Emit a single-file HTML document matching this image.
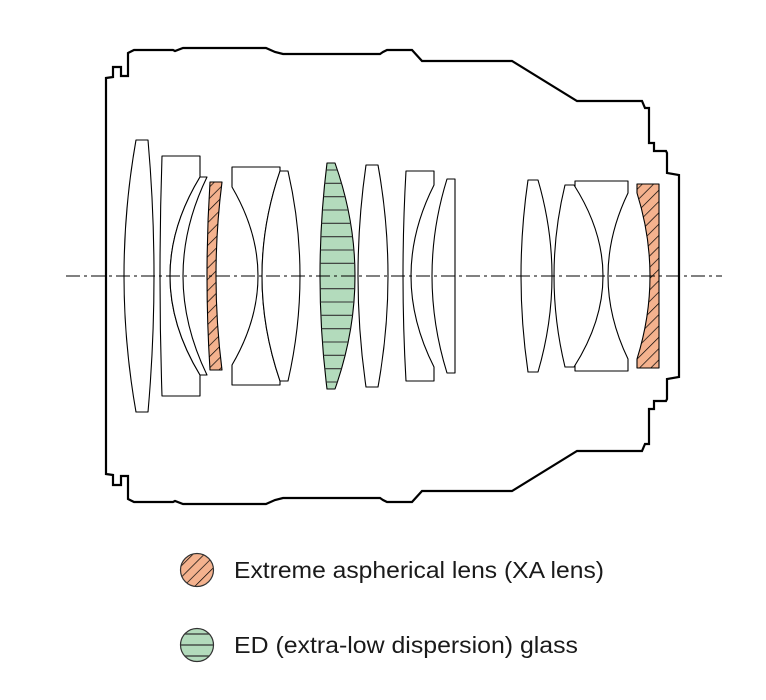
<!DOCTYPE html>
<html><head><meta charset="utf-8"><style>
html,body{margin:0;padding:0;background:#fff;}
svg{display:block;}
text{font-family:"Liberation Sans",sans-serif;font-size:23px;fill:#1a1a1a;}
</style></head><body>
<svg width="766" height="700" viewBox="0 0 766 700" xmlns="http://www.w3.org/2000/svg">
<defs>
<pattern id="hatch" patternUnits="userSpaceOnUse" width="8" height="8" patternTransform="rotate(45)">
<rect width="8" height="8" fill="#f4b28e"/>
<line x1="0" y1="0" x2="0" y2="8" stroke="#000" stroke-width="1.4"/>
</pattern>
<clipPath id="edclip"><path d="M327,163 L335,163 Q375,276 335,389 L327,389 Q313,276 327,163 Z"/></clipPath>
<clipPath id="lc2"><circle cx="197" cy="645" r="16"/></clipPath>
</defs>

<g fill="none" stroke="#000" stroke-width="2.2" stroke-linejoin="miter">
<path id="h" d="M106,276 L106,78 L113,77 L113,67 L121,67 L121,76 L128,76 L128,53 L134,50 L173,50 L175,51 L183,48 L266,48 L275,52 L283,54 L380,54 L383,52 L387,50 L412,50 L422,61 L512,61 L577,101 L642,101 L645,108 L649,108 L649,143 L654,143 L654,151 L666,151 L667,153 L667,173 L679,175 L679,276"/>
<use href="#h" transform="translate(0,552) scale(1,-1)"/>
</g>

<g fill="none" stroke="#000" stroke-width="1.1" stroke-linejoin="round">
<path d="M136,140 L148,140 Q160,276 148,412 L136,412 Q112,276 136,140 Z" fill="#fff"/>
<path d="M162,156 L200,156 L200,177 Q140,276 200,375 L200,396 L162,396 Q158,276 162,156 Z" fill="#fff"/>
<path d="M200,177 L207,177 Q159,276 207,375 L200,375 Q140,276 200,177 Z" fill="#fff"/>
<path d="M210,182 L222,182 Q210,276 222,370 L210,370 Q204,276 210,182 Z" fill="url(#hatch)"/>
<path d="M232,167 L280,167 L280,171 Q244,276 280,381 L280,385 L232,385 L232,365 Q284,276 232,187 Z" fill="#fff"/>
<path d="M280,171 L288,171 Q312,276 288,381 L280,381 Q244,276 280,171 Z" fill="#fff"/>
<path d="M327,163 L335,163 Q375,276 335,389 L327,389 Q313,276 327,163 Z" fill="#b3dbbc"/>
<g clip-path="url(#edclip)" stroke="#333">
<line x1="300" y1="170" x2="380" y2="170"/><line x1="300" y1="183.3" x2="380" y2="183.3"/>
<line x1="300" y1="196.7" x2="380" y2="196.7"/><line x1="300" y1="210" x2="380" y2="210"/>
<line x1="300" y1="223.3" x2="380" y2="223.3"/><line x1="300" y1="236.7" x2="380" y2="236.7"/>
<line x1="300" y1="250" x2="380" y2="250"/><line x1="300" y1="263.3" x2="380" y2="263.3"/>
<line x1="300" y1="288.7" x2="380" y2="288.7"/><line x1="300" y1="302" x2="380" y2="302"/>
<line x1="300" y1="315.3" x2="380" y2="315.3"/><line x1="300" y1="328.7" x2="380" y2="328.7"/>
<line x1="300" y1="342" x2="380" y2="342"/><line x1="300" y1="355.3" x2="380" y2="355.3"/>
<line x1="300" y1="368.7" x2="380" y2="368.7"/><line x1="300" y1="382" x2="380" y2="382"/>
</g>
<path d="M366,165 L378,165 Q398,276 378,387 L366,387 Q350,276 366,165 Z" fill="#fff"/>
<path d="M406,171 L434,171 L434,185 Q388,276 434,367 L434,381 L406,381 Q400,276 406,171 Z" fill="#fff"/>
<path d="M447,179 L455,179 Q455,276 455,373 L447,373 Q417,276 447,179 Z" fill="#fff"/>
<path d="M528,180 L538,180 Q566,276 538,372 L528,372 Q514,276 528,180 Z" fill="#fff"/>
<path d="M575,181 L628,181 L628,193 Q588,276 628,359 L628,371 L575,371 L575,367 L575,185 Z" fill="#fff"/>
<path d="M565,185 L574,185 Q632,276 574,367 L565,367 Q543,276 565,185 Z" fill="#fff"/>
<path d="M637,184 L659,184 L659,368 L637,368 L637,359 Q663,276 637,193 Z" fill="url(#hatch)"/>
</g>
<line x1="66" y1="276" x2="722" y2="276" stroke="#000" stroke-width="1" stroke-dasharray="14,4,3,4"/>

<circle cx="197" cy="570" r="16.5" fill="url(#hatch)" stroke="#333" stroke-width="1.2"/>
<circle cx="197" cy="645" r="16.5" fill="#b3dbbc" stroke="#333" stroke-width="1.2"/>
<g clip-path="url(#lc2)" stroke="#333" stroke-width="1.2">
<line x1="180" y1="634" x2="214" y2="634"/><line x1="180" y1="645" x2="214" y2="645"/><line x1="180" y1="656" x2="214" y2="656"/>
</g>
<text x="234" y="578" textLength="370" lengthAdjust="spacingAndGlyphs">Extreme aspherical lens (XA lens)</text>
<text x="234" y="653" textLength="344" lengthAdjust="spacingAndGlyphs">ED (extra-low dispersion) glass</text>
</svg>
</body></html>
